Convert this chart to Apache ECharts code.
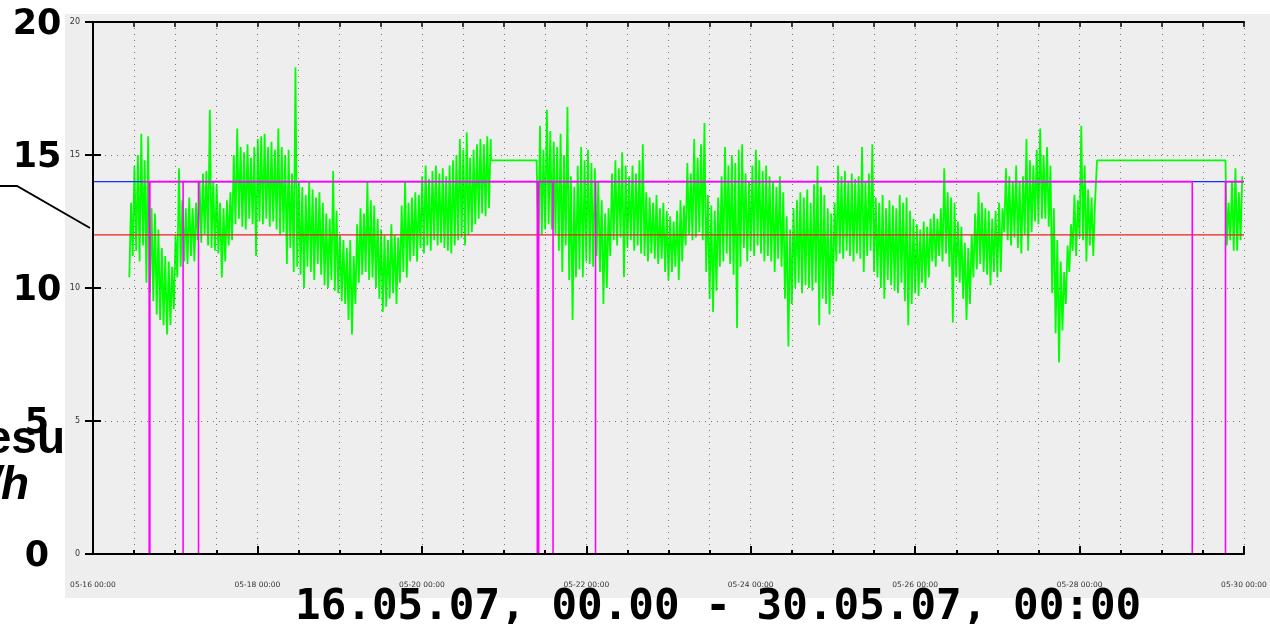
<!DOCTYPE html>
<html><head><meta charset="utf-8">
<script src="https://cdn.jsdelivr.net/npm/echarts@6/dist/echarts.min.js"></script>
<style>html,body{margin:0;padding:0;background:#fff}#c{width:1270px;height:624px}</style>
</head><body><div id="c"></div>
<script>
// hours since 05-16 00:00
const xMin = 0, xMax = 336;
const xLabelHours = [0, 48, 96, 144, 192, 240, 288, 336];
const xLabels = ['05-16 00:00','05-18 00:00','05-20 00:00','05-22 00:00','05-24 00:00','05-26 00:00','05-28 00:00','05-30 00:00'];
const yTicks = [0, 5, 10, 15, 20];
const bigLabels = ['20', '15', '10', '5', '0'];
const titleText = '16.05.07, 00.00 - 30.05.07, 00:00';

// green measurement: hourly high / low envelope per segment
const startHourA = 10.6;
const greenHiA = [13.2,14.6,15.0,15.8,14.8,15.7,13.0,12.8,12.2,11.5,11.2,11.0,10.8,12.0,14.5,13.3,13.0,13.4,13.0,13.2,
14.0,14.3,14.4,16.7,14.0,13.9,13.2,13.0,13.3,13.6,15.0,16.0,15.3,15.1,15.4,14.9,15.3,15.6,15.7,15.8,
15.3,15.5,15.2,16.0,15.3,15.0,15.2,14.3,18.3,14.0,13.8,13.5,14.0,13.7,13.4,13.6,13.2,12.8,12.6,14.4,
12.9,12.0,11.8,11.5,11.8,11.2,12.4,13.0,12.8,14.0,13.3,13.1,12.6,12.2,12.0,11.8,12.4,12.0,11.9,13.1,
14.0,13.2,13.4,13.6,13.5,14.2,14.6,14.1,14.4,14.6,14.3,14.5,14.2,14.6,14.8,15.0,15.6,15.2,15.85,14.9,
15.2,15.4,15.6,15.4,15.7,15.6];
const greenLoA = [10.4,11.2,11.4,11.0,11.6,10.2,9.8,9.5,9.0,8.8,8.6,8.25,8.6,9.2,10.4,10.8,11.0,10.9,11.2,11.0,
11.8,11.7,12.0,11.6,11.5,11.4,11.3,10.4,11.0,11.6,11.8,12.4,12.6,12.3,12.2,12.6,12.4,11.2,12.5,12.4,
12.6,12.3,12.5,12.2,12.0,12.1,10.9,11.5,10.6,10.8,10.5,10.0,10.8,10.6,10.3,10.9,10.5,10.1,10.0,10.3,
9.9,9.8,9.5,9.4,8.8,8.25,9.4,10.2,10.5,10.6,10.3,10.4,10.0,9.6,9.1,9.3,9.6,9.8,9.4,10.2,
10.6,10.4,11.0,11.2,11.0,11.5,11.3,11.6,11.4,11.8,11.6,11.7,11.5,11.4,11.3,11.6,11.8,11.9,11.6,12.0,
12.1,12.4,12.6,12.8,12.7,13.0];
const flatValue = 14.8;
const flat1 = [116.2, 129.5];
const startHourB = 130;
const greenHiB = [16.1,15.2,16.7,15.9,15.5,15.3,15.8,15.0,16.8,14.2,13.8,14.6,15.3,14.8,15.2,14.7,14.5,14.0,13.3,12.8,
13.0,14.3,14.8,14.5,15.1,14.6,14.2,14.6,14.3,14.8,15.4,13.6,13.4,13.2,13.5,13.0,13.2,12.9,12.7,12.5,
12.9,13.3,13.1,14.7,14.3,15.6,14.9,15.4,16.2,13.5,13.1,12.9,13.4,14.2,15.3,14.6,15.0,14.7,15.2,15.4,
14.3,14.0,14.6,15.2,14.8,14.4,14.6,14.2,14.0,13.8,14.2,13.6,12.7,12.2,13.0,13.3,13.6,13.4,13.7,13.2,
13.9,14.6,13.8,13.5,13.0,12.8,13.2,14.6,14.2,14.4,14.0,14.3,14.1,14.2,15.3,14.0,14.3,15.4,13.4,13.2,
13.5,13.0,13.3,13.1,13.0,13.5,13.2,13.4,12.9,12.6,12.4,12.2,12.5,12.3,12.6,12.8,12.6,13.0,14.5,13.6,
13.4,13.2,12.5,12.3,11.7,11.5,12.0,12.8,13.6,13.2,13.0,12.9,12.6,12.9,13.2,13.0,14.5,14.2,14.0,14.6,
14.0,14.2,15.6,14.8,14.6,15.2,16.0,15.0,15.3,14.6,13.0,11.8,11.0,10.6,11.6,12.4,13.5,13.3,16.1,14.6,
13.7,13.4,13.2];
const greenLoB = [11.7,12.0,12.2,12.4,12.2,12.0,11.4,10.6,11.6,10.3,8.8,10.4,10.7,10.4,11.0,10.9,10.8,11.2,10.6,9.4,
10.0,11.2,11.8,11.6,11.9,10.4,11.5,11.8,11.4,11.6,11.3,11.2,11.0,11.3,11.1,10.9,11.1,10.6,10.3,10.6,
10.8,10.3,11.0,11.6,12.0,11.8,11.9,12.1,11.8,10.6,9.6,9.1,9.9,10.8,11.0,11.3,10.9,10.5,8.5,10.8,
11.5,11.0,11.4,11.2,11.6,11.3,11.0,11.2,11.0,10.6,11.1,10.8,9.6,7.8,9.4,10.0,10.2,9.8,10.1,10.0,
9.9,10.2,8.6,9.6,9.4,9.0,9.7,11.0,11.3,11.1,11.4,11.2,11.0,11.3,11.1,10.6,11.2,11.4,10.6,10.4,
10.0,9.6,10.3,10.1,9.9,9.8,10.2,9.5,8.6,9.4,9.8,9.7,10.2,10.0,10.4,11.0,10.8,11.2,11.0,11.3,
10.8,8.7,10.4,10.2,9.6,8.8,9.4,10.4,10.7,10.9,10.6,10.5,10.1,10.6,10.4,10.6,12.1,11.8,11.6,11.9,
11.5,11.3,12.0,11.4,12.1,12.5,12.4,12.6,12.6,12.3,9.8,8.3,7.2,8.4,9.4,10.6,11.4,11.2,11.9,11.8,
11.0,11.6,11.2];
const flat2 = [293.1, 330.6];
const startHourC = 331;
const greenHiC = [13.2,14.0,14.5,13.6,14.2];
const greenLoC = [11.6,11.8,11.4,11.4,11.8];

// magenta status line
const magentaLevel = 14;
const magentaStart = 14.2;
const magentaSpikes = [16.4, 16.6, 26.3, 30.8, 129.7, 130.1, 134.3, 146.7];
const magentaOff = [320.9, 330.6];
// reference lines
const blueLevel = 14;
const redLevel = 12;

function zig(start, hi, lo) {
  const out = [];
  for (let i = 0; i < hi.length; i++) {
    out.push([start + i, lo[i]]);
    out.push([start + i + 0.5, hi[i]]);
  }
  return out;
}
const greenData = [].concat(
  zig(startHourA, greenHiA, greenLoA),
  [[flat1[0], flatValue], [flat1[1], flatValue]],
  zig(startHourB, greenHiB, greenLoB),
  [[flat2[0], flatValue], [flat2[1], flatValue]],
  zig(startHourC, greenHiC, greenLoC)
);
const magentaData = [[magentaStart, magentaLevel]];
magentaSpikes.forEach(s => { magentaData.push([s, magentaLevel], [s, 0], [s, magentaLevel]); });
magentaData.push([magentaOff[0], magentaLevel], [magentaOff[0], 0], [magentaOff[1], 0], [magentaOff[1], magentaLevel], [xMax, magentaLevel]);

const chart = echarts.init(document.getElementById('c'), null, {renderer: 'canvas'});
const dotted = {color: '#777', width: 1, type: [1, 5]};
const black2 = {color: '#000', width: 2};
const gridTop = 22, gridBottomY = 554, gridLeft = 93, gridRightX = 1244;
const step = (gridBottomY - gridTop) / 4;

const graphic = [
  {type: 'rect', shape: {x: 0, y: 0, width: 65, height: 624}, style: {fill: '#fff'}, silent: true},
  {type: 'rect', shape: {x: 0, y: 0, width: 1270, height: 14}, style: {fill: '#fff'}, silent: true},
  {type: 'rect', shape: {x: 0, y: 598, width: 1270, height: 26}, style: {fill: '#fff'}, silent: true}
];
bigLabels.forEach((t, i) => {
  graphic.push({type: 'text', x: 37, y: 25 + i * step, style: {text: t, font: 'bold 35px "DejaVu Sans"', fill: '#000', align: 'center', verticalAlign: 'middle'}});
});
graphic.push({type: 'text', x: 65, y: 417, style: {text: 'esu', font: 'bold 46px "Liberation Sans"', fill: '#000', align: 'right', verticalAlign: 'top'}});
graphic.push({type: 'text', x: 29, y: 463, style: {text: '/h', font: 'italic bold 46px "Liberation Sans"', fill: '#000', align: 'right', verticalAlign: 'top'}});
graphic.push({type: 'text', x: 295, y: 586, style: {text: titleText, font: 'bold 42.6px "DejaVu Sans Mono"', fill: '#000', align: 'left', verticalAlign: 'top'}});
graphic.push({type: 'polyline', shape: {points: [[0, 186], [17, 186], [90, 228]]}, style: {stroke: '#000', lineWidth: 2, fill: null}});

chart.setOption({
  animation: false,
  backgroundColor: '#eeeeee',
  grid: {left: gridLeft, top: gridTop, width: gridRightX - gridLeft, height: gridBottomY - gridTop, containLabel: false},
  xAxis: [
    {type: 'value', z: 10, min: xMin, max: xMax, interval: 12, position: 'bottom',
     axisLine: {show: true, lineStyle: black2}, axisTick: {show: true, inside: true, length: 4, lineStyle: black2},
     axisLabel: {show: false}, splitLine: {show: true, lineStyle: dotted}},
    {type: 'value', z: 10, min: xMin, max: xMax, interval: 48, position: 'bottom',
     axisLine: {show: false}, axisTick: {show: true, inside: true, length: 8, lineStyle: black2},
     axisLabel: {show: true, margin: 27, fontSize: 7.5, fontFamily: 'DejaVu Sans', color: '#333',
       formatter: v => { const k = xLabelHours.indexOf(v); return k >= 0 ? xLabels[k] : ''; }},
     splitLine: {show: false}},
    {type: 'value', z: 10, min: xMin, max: xMax, interval: 12, position: 'top',
     axisLine: {show: true, lineStyle: black2}, axisTick: {show: true, inside: true, length: 5, lineStyle: {color: '#000', width: 1.5}},
     axisLabel: {show: false}, splitLine: {show: false}}
  ],
  yAxis: [
    {type: 'value', z: 10, min: yTicks[0], max: yTicks[yTicks.length - 1], interval: 5, position: 'left',
     axisLine: {show: true, lineStyle: black2}, axisTick: {show: true, inside: true, length: 8, lineStyle: black2},
     axisLabel: {show: true, margin: 13, fontSize: 8, fontFamily: 'DejaVu Sans', color: '#333'},
     splitLine: {show: true, lineStyle: dotted}},
    {type: 'value', z: 10, min: yTicks[0], max: yTicks[yTicks.length - 1], interval: 5, position: 'right',
     axisLine: {show: true, lineStyle: black2}, axisTick: {show: true, inside: true, length: 8, lineStyle: black2},
     axisLabel: {show: false}, splitLine: {show: false}}
  ],
  graphic: graphic,
  series: [
    {type: 'line', xAxisIndex: 0, yAxisIndex: 0, data: greenData, showSymbol: false, silent: true, z: 2,
     lineStyle: {color: '#00ff00', width: 1.8}},
    {type: 'line', xAxisIndex: 0, yAxisIndex: 0, data: [[xMin, redLevel], [xMax, redLevel]], showSymbol: false, silent: true, z: 3,
     lineStyle: {color: '#e82020', width: 1.2}},
    {type: 'line', xAxisIndex: 0, yAxisIndex: 0, data: [[xMin, blueLevel], [xMax, blueLevel]], showSymbol: false, silent: true, z: 3,
     lineStyle: {color: '#1a2aff', width: 1.2}},
    {type: 'line', xAxisIndex: 0, yAxisIndex: 0, data: magentaData, showSymbol: false, silent: true, z: 4,
     lineStyle: {color: '#ff00ff', width: 1.6}}
  ]
});
</script></body></html>
